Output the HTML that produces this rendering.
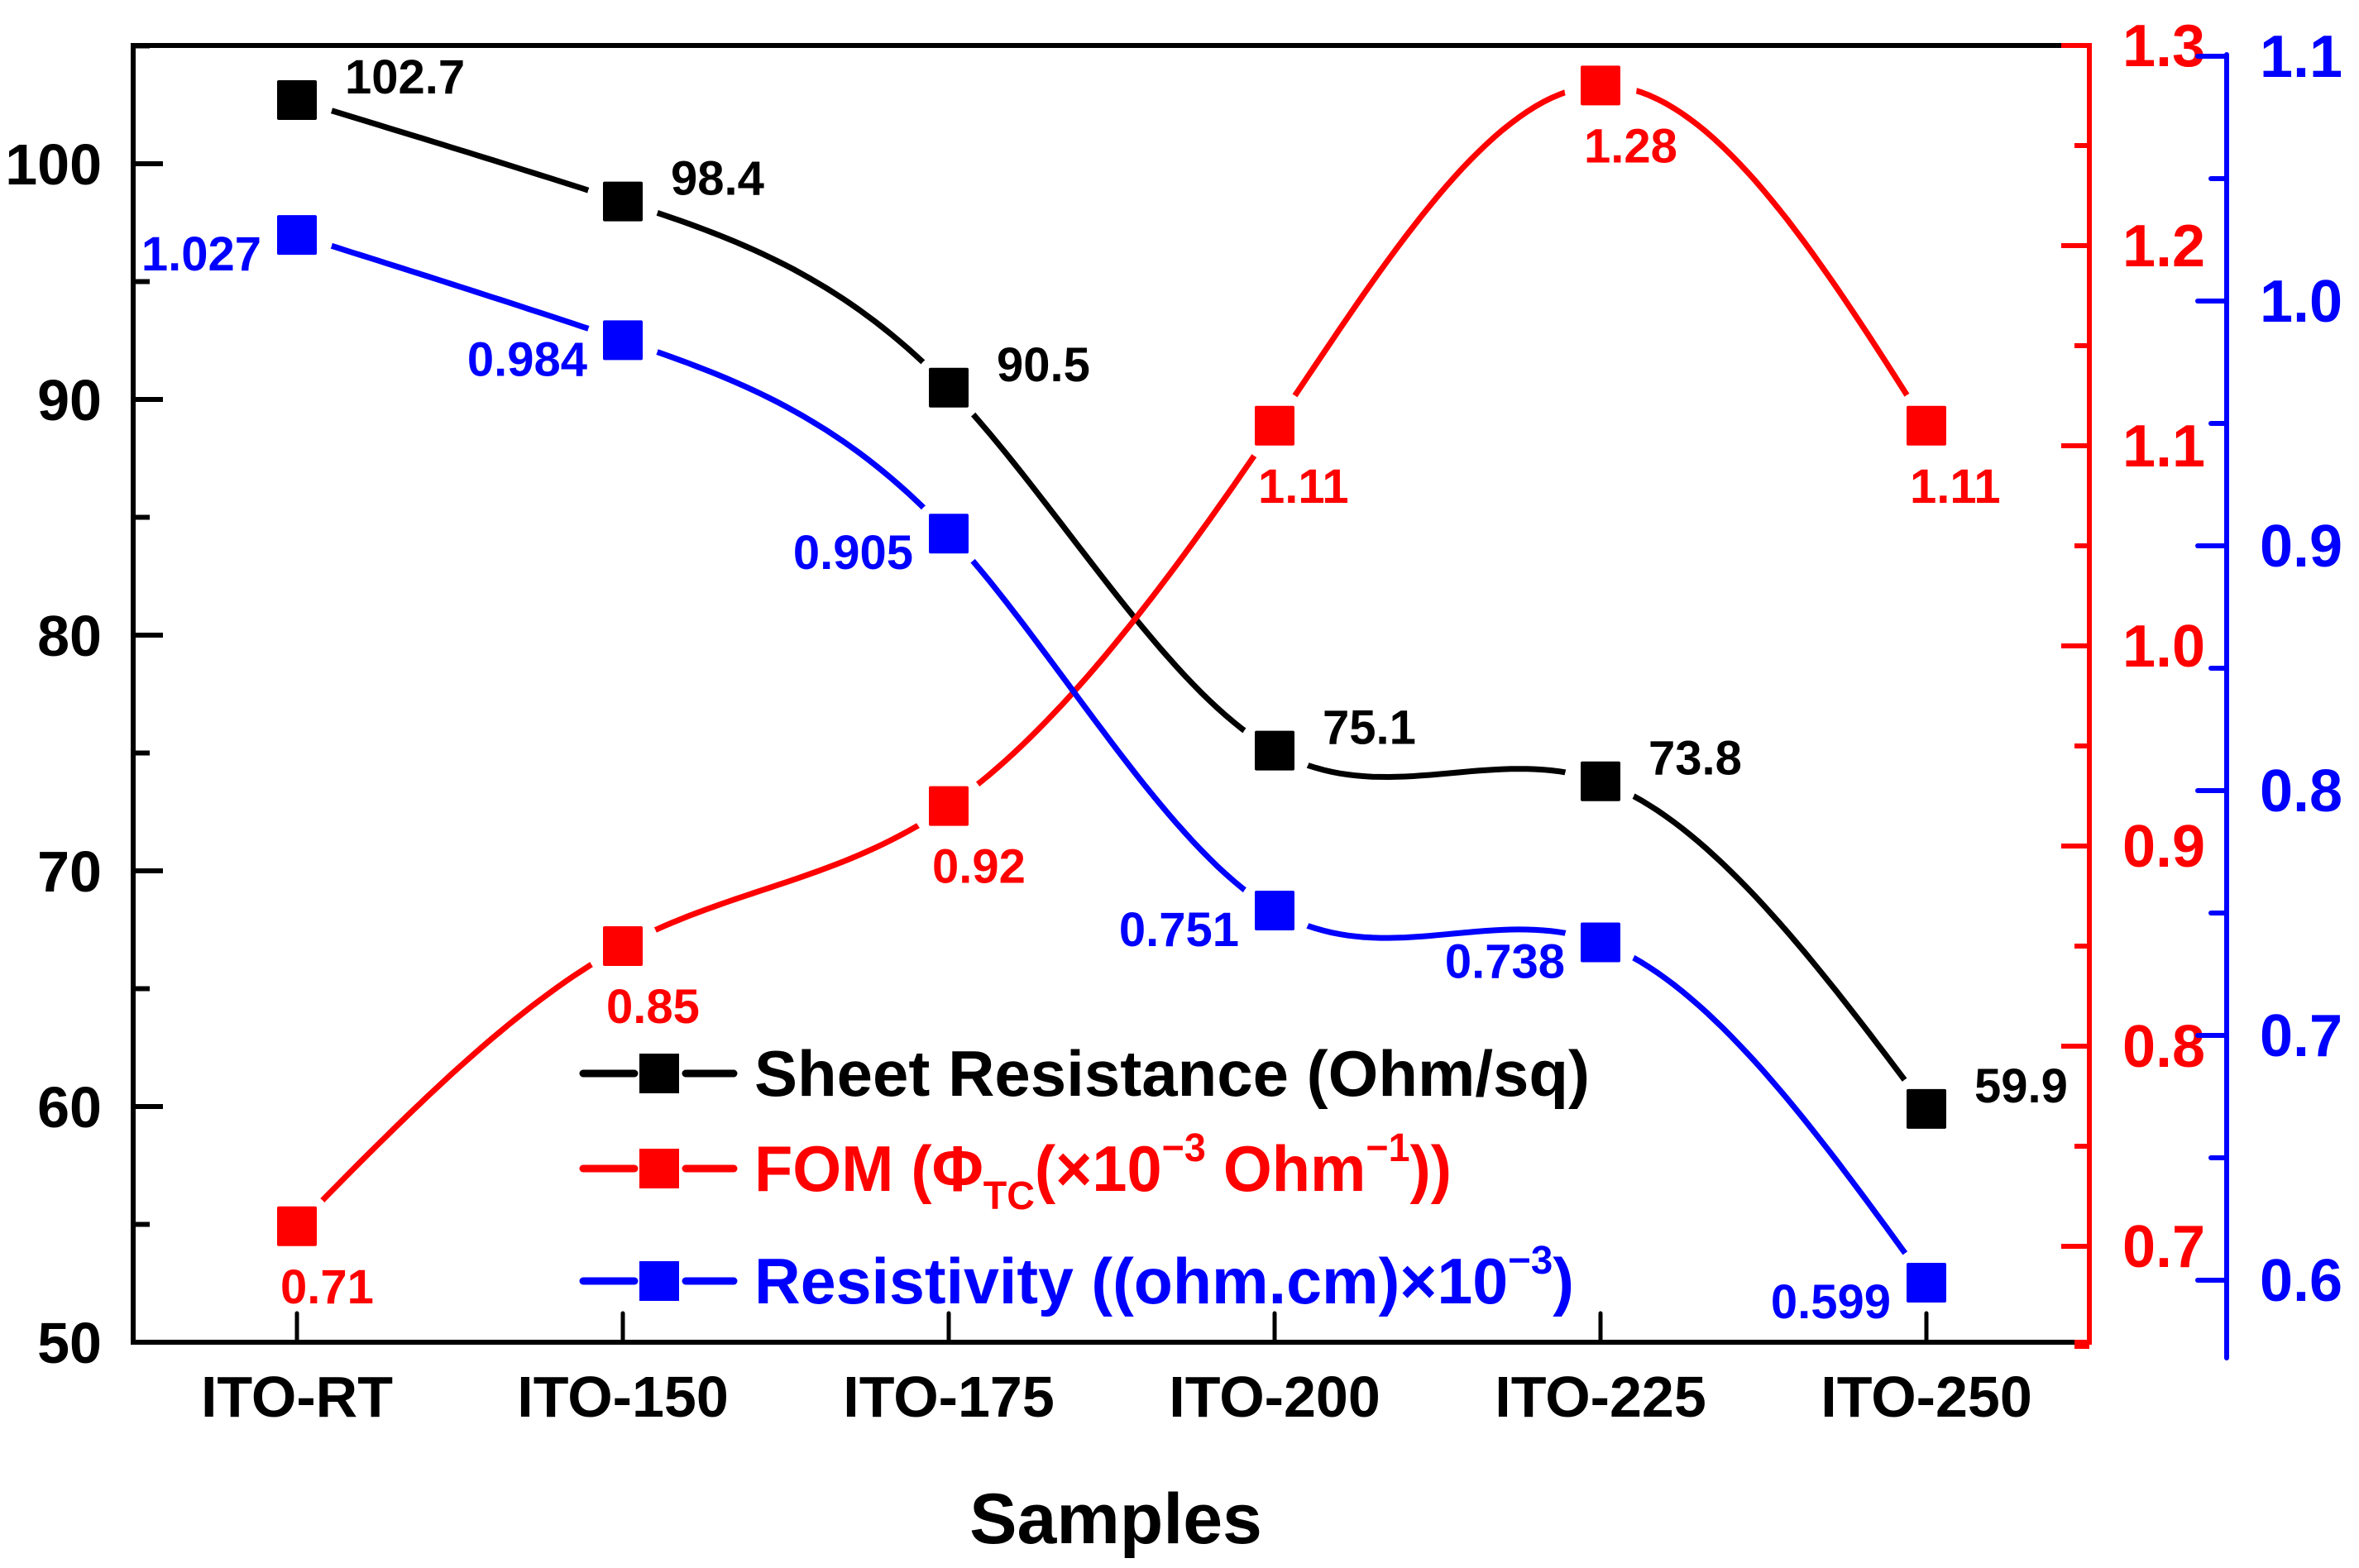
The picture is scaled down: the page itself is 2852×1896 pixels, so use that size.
<!DOCTYPE html>
<html><head><meta charset="utf-8"><style>
html,body{margin:0;padding:0;background:#fff;}
svg{display:block;font-family:"Liberation Sans",Arial,sans-serif;font-weight:bold;}
</style></head><body>
<svg id="chart" width="2852" height="1896" viewBox="0 0 2852 1896" xmlns="http://www.w3.org/2000/svg">
<defs>
<mask id="m-sheet" maskUnits="userSpaceOnUse" x="0" y="0" width="2852" height="1896"><rect x="0" y="0" width="2852" height="1896" fill="#fff"/><g id="mk-sheet"></g></mask>
<mask id="m-fom" maskUnits="userSpaceOnUse" x="0" y="0" width="2852" height="1896"><rect x="0" y="0" width="2852" height="1896" fill="#fff"/><g id="mk-fom"></g></mask>
<mask id="m-res" maskUnits="userSpaceOnUse" x="0" y="0" width="2852" height="1896"><rect x="0" y="0" width="2852" height="1896" fill="#fff"/><g id="mk-res"></g></mask>
</defs>
<g id="axes"></g>
<g id="series"></g>
<g id="legend">
  <line x1="705" y1="1298" x2="767" y2="1298" stroke="#000" stroke-width="9" stroke-linecap="round"/>
  <line x1="829" y1="1298" x2="887" y2="1298" stroke="#000" stroke-width="9" stroke-linecap="round"/>
  <rect x="773" y="1274" width="48" height="48" fill="#000"/>
  <text x="912" y="1325" font-size="78" fill="#000" textLength="1010" lengthAdjust="spacingAndGlyphs">Sheet Resistance (Ohm/sq)</text>
  <line x1="705" y1="1413" x2="767" y2="1413" stroke="#f00" stroke-width="9" stroke-linecap="round"/>
  <line x1="829" y1="1413" x2="887" y2="1413" stroke="#f00" stroke-width="9" stroke-linecap="round"/>
  <rect x="773" y="1389" width="48" height="48" fill="#f00"/>
  <text x="912" y="1440" font-size="78" fill="#f00" textLength="843" lengthAdjust="spacingAndGlyphs">FOM (Φ<tspan font-size="48" dy="22">TC</tspan><tspan dy="-22">(×10</tspan><tspan font-size="48" dy="-36">−3</tspan><tspan dy="36"> Ohm</tspan><tspan font-size="48" dy="-36">−1</tspan><tspan dy="36">))</tspan></text>
  <line x1="705" y1="1549" x2="767" y2="1549" stroke="#00f" stroke-width="9" stroke-linecap="round"/>
  <line x1="829" y1="1549" x2="887" y2="1549" stroke="#00f" stroke-width="9" stroke-linecap="round"/>
  <rect x="773" y="1525" width="48" height="48" fill="#00f"/>
  <text x="912" y="1576" font-size="78" fill="#00f" textLength="991" lengthAdjust="spacingAndGlyphs">Resistivity ((ohm.cm)×10<tspan font-size="48" dy="-36">−3</tspan><tspan dy="36">)</tspan></text>
</g>
<text x="1349" y="1866" font-size="86" text-anchor="middle" fill="#000">Samples</text>
</svg>
<script>
const categories = ["ITO-RT","ITO-150","ITO-175","ITO-200","ITO-225","ITO-250"];
const sheetValues = [102.7, 98.4, 90.5, 75.1, 73.8, 59.9];
const fomValues = [0.71, 0.85, 0.92, 1.11, 1.28, 1.11];
const resValues = [1.027, 0.984, 0.905, 0.751, 0.738, 0.599];
const sheetLabels = ["102.7","98.4","90.5","75.1","73.8","59.9"];
const fomLabels = ["0.71","0.85","0.92","1.11","1.28","1.11"];
const resLabels = ["1.027","0.984","0.905","0.751","0.738","0.599"];
const leftTicks = [50,60,70,80,90,100];
const redTicks = [0.7,0.8,0.9,1.0,1.1,1.2,1.3];
const blueTicks = [0.6,0.7,0.8,0.9,1.0,1.1];

const NS = "http://www.w3.org/2000/svg";
const X0 = 161, X1 = 2526, YB = 1623, YT = 55;
function xPos(i){ return 359 + i*394; }
function yLeft(v){ return 1623 - (v-50)*28.5; }
function yRed(v){ return 55 + (1.3-v)*2420; }
function yBlue(v){ return 68 + (1.1-v)*2960; }

function mk(tag, attrs, parent){
  const e = document.createElementNS(NS, tag);
  for (const k in attrs) e.setAttribute(k, attrs[k]);
  parent.appendChild(e);
  return e;
}
const axes = document.getElementById("axes");
const series = document.getElementById("series");

let e;
e = mk("line",{x1:X0,y1:YT,x2:X1,y2:YT,stroke:"#000","stroke-width":6},axes);


e = mk("line",{x1:X0,y1:YT-3,x2:X0,y2:YB+3,stroke:"#000","stroke-width":6},axes);


e = mk("line",{x1:X0-3,y1:YB,x2:X1,y2:YB,stroke:"#000","stroke-width":6},axes);


e = mk("line",{x1:X1,y1:YT-3,x2:X1,y2:YB+3,stroke:"#f00","stroke-width":6},axes);


e = mk("line",{x1:2692,y1:66,x2:2692,y2:1642,stroke:"#00f","stroke-width":6,"stroke-linecap":"round"},axes);



for (let i=0;i<leftTicks.length;i++){
  const v = leftTicks[i], y = yLeft(v);
  mk("line",{x1:X0,y1:y,x2:X0+36,y2:y,stroke:"#000","stroke-width":6},axes);
  if (i<leftTicks.length-1) mk("line",{x1:X0,y1:yLeft(v+5),x2:X0+20,y2:yLeft(v+5),stroke:"#000","stroke-width":6},axes);
  const t = mk("text",{x:123,y:y+25,"font-size":70,"text-anchor":"end",fill:"#000"},axes);
  t.textContent = String(v);
  
  
}
mk("line",{x1:X0,y1:yLeft(105),x2:X0+20,y2:yLeft(105),stroke:"#000","stroke-width":6},axes);
for (let i=0;i<redTicks.length;i++){
  const v = redTicks[i], y = yRed(v);
  mk("line",{x1:X1,y1:y,x2:X1-34,y2:y,stroke:"#f00","stroke-width":6},axes);
  mk("line",{x1:X1,y1:yRed(v-0.05),x2:X1-18,y2:yRed(v-0.05),stroke:"#f00","stroke-width":6},axes);
  const t = mk("text",{x:2566,y:y+25,"font-size":72,fill:"#f00"},axes);
  t.textContent = v.toFixed(1);
  
  
}
mk("line",{x1:X1,y1:YB,x2:X1-18,y2:YB,stroke:"#f00","stroke-width":6},axes);
for (let i=0;i<blueTicks.length;i++){
  const v = blueTicks[i], y = yBlue(v);
  mk("line",{x1:2692,y1:y,x2:2657,y2:y,stroke:"#00f","stroke-width":6,"stroke-linecap":"round"},axes);
  if (i>0) mk("line",{x1:2692,y1:yBlue(v-0.05),x2:2673,y2:yBlue(v-0.05),stroke:"#00f","stroke-width":6,"stroke-linecap":"round"},axes);
  const t = mk("text",{x:2732,y:y+25,"font-size":72,fill:"#00f"},axes);
  t.textContent = v.toFixed(1);
  
  
}
for (let i=0;i<categories.length;i++){
  const x = xPos(i);
  mk("line",{x1:x,y1:YB,x2:x,y2:YB-35,stroke:"#000","stroke-width":5,"stroke-linecap":"round"},axes);
  const t = mk("text",{x:x,y:1713,"font-size":70,"text-anchor":"middle",fill:"#000"},axes);
  t.textContent = categories[i];
  
  
}

function splinePath(px, py){
  const n = px.length, h=[], a=[], l=[1], mu=[0], z=[0], c=new Array(n).fill(0), b=[], d=[];
  for (let i=0;i<n-1;i++) h[i]=px[i+1]-px[i];
  for (let i=1;i<n-1;i++) a[i]=3/h[i]*(py[i+1]-py[i])-3/h[i-1]*(py[i]-py[i-1]);
  for (let i=1;i<n-1;i++){ l[i]=2*(px[i+1]-px[i-1])-h[i-1]*mu[i-1]; mu[i]=h[i]/l[i]; z[i]=(a[i]-h[i-1]*z[i-1])/l[i]; }
  for (let j=n-2;j>=0;j--){ c[j]=(j>0? z[j]-mu[j]*c[j+1] : 0); b[j]=(py[j+1]-py[j])/h[j]-h[j]*(c[j+1]+2*c[j])/3; d[j]=(c[j+1]-c[j])/(3*h[j]); }
  let s = "M"+px[0]+","+py[0];
  for (let j=0;j<n-1;j++){
    for (let k=1;k<=40;k++){
      const t=h[j]*k/40;
      const y=py[j]+b[j]*t+c[j]*t*t+d[j]*t*t*t;
      s+=" L"+(px[j]+t).toFixed(1)+","+y.toFixed(1);
    }
  }
  return s;
}

function drawSeries(vals, labels, yf, color, key, maskId, lblFn){
  const px = vals.map((v,i)=>xPos(i)), py = vals.map(v=>yf(v));
  const mg = document.getElementById("mk-"+key);
  for (let i=0;i<vals.length;i++) mk("circle",{cx:px[i],cy:py[i],r:44,fill:"#000"},mg);
  const p = mk("path",{d:splinePath(px,py),fill:"none",stroke:color,"stroke-width":7,"stroke-linecap":"round",mask:"url(#"+maskId+")"},series);
  
  
  for (let i=0;i<vals.length;i++){
    const r = mk("rect",{x:px[i]-24,y:py[i]-24,width:48,height:48,rx:2,fill:color},series);
    
    
    const o = lblFn(px[i],py[i]);
    const t = mk("text",{x:o[0],y:o[1],"font-size":58,"text-anchor":o[2],fill:color},series);
    t.textContent = labels[i];
    
    
  }
}
drawSeries(sheetValues, sheetLabels, yLeft, "#000", "sheet", "m-sheet", (x,y)=>[x+58,y-8,"start"]);
drawSeries(fomValues, fomLabels, yRed, "#f00", "fom", "m-fom", (x,y)=>[x-20,y+93,"start"]);
drawSeries(resValues, resLabels, yBlue, "#00f", "res", "m-res", (x,y)=>[x-43,y+43,"end"]);
</script>
</body></html>
